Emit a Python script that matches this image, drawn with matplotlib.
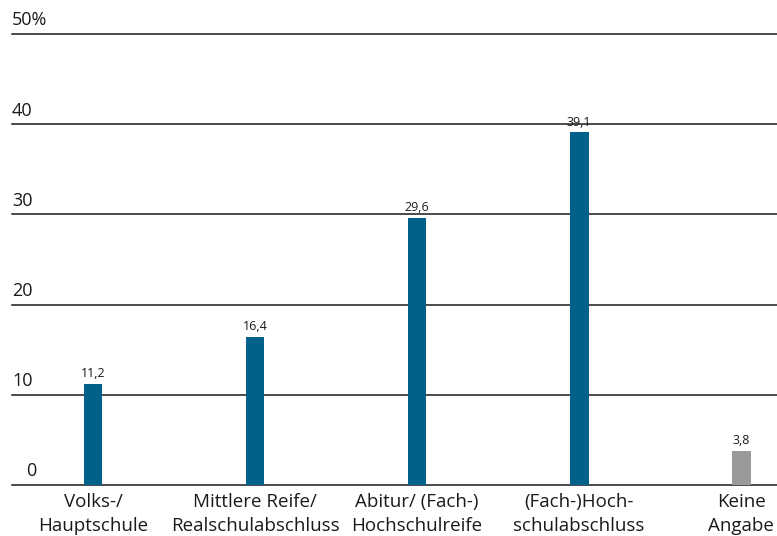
import matplotlib.pyplot as plt

# Data
categories = ["Volks-/\nHauptschule", "Mittlere Reife/\nRealschulabschluss",
              "Abitur/ (Fach-)\nHochschulreife", "(Fach-)Hoch-\nschulabschluss",
              "Keine\nAngabe"]
values = [11.2, 16.4, 29.6, 39.1, 3.8]
value_labels = ["11,2", "16,4", "29,6", "39,1", "3,8"]
tick_values = [0, 10, 20, 30, 40, 50]
tick_labels = ["0", "10", "20", "30", "40", "50%"]

blue = "#00628b"
gray = "#9a9a9a"
colors = [blue, blue, blue, blue, gray]

plt.rcParams['font.family'] = ['Open Sans', 'DejaVu Sans']

fig = plt.figure(figsize=(7.77, 5.36), dpi=100)
ax = fig.add_axes([12 / 777, 51 / 536, 765 / 777, 451 / 536])

x = list(range(len(values)))
ax.bar(x, values, width=0.117, color=colors, zorder=3)

ax.set_xlim(-0.5, 4.222)
ax.set_ylim(0, 50)

# gridlines
for t in tick_values:
    ax.axhline(t, color="#1a1a1a", lw=1.1, zorder=2, clip_on=False)

# tick labels sitting above lines
for t, lab in zip(tick_values, tick_labels):
    xpos = -0.5 if t != 0 else -0.41
    ax.text(xpos, t + 0.5, lab, ha="left", va="bottom", fontsize=13,
            color="#1a1a1a")

# value labels
for xi, v, lab in zip(x, values, value_labels):
    ax.text(xi, v + 0.4, lab, ha="center", va="bottom", fontsize=9,
            color="#1a1a1a")

# category labels
for xi, lab in zip(x, categories):
    ax.text(xi, -0.9, lab, ha="center", va="top", fontsize=13.5,
            color="#1a1a1a", linespacing=1.4)

ax.set_xticks([])
ax.set_yticks([])
for s in ax.spines.values():
    s.set_visible(False)

fig.savefig("out.png", dpi=100)
